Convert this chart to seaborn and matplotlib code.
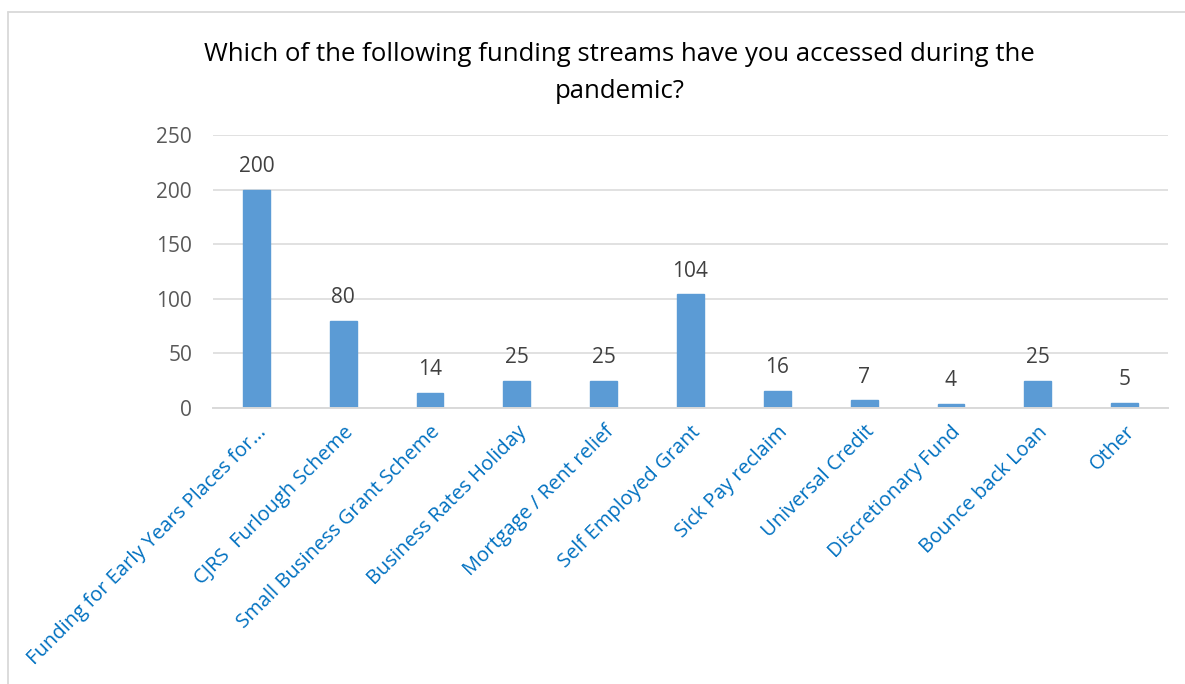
import matplotlib
matplotlib.use("Agg")
import matplotlib.pyplot as plt
import seaborn as sns
import pandas as pd
from matplotlib.lines import Line2D

categories = [
    "Funding for Early Years Places for...",
    "CJRS  Furlough Scheme",
    "Small Business Grant Scheme",
    "Business Rates Holiday",
    "Mortgage / Rent relief",
    "Self Employed Grant",
    "Sick Pay reclaim",
    "Universal Credit",
    "Discretionary Fund",
    "Bounce back Loan",
    "Other",
]
counts = [200, 80, 14, 25, 25, 104, 16, 7, 4, 25, 5]
y_ticks = [0, 50, 100, 150, 200, 250]

title = "Which of the following funding streams have you accessed during the\npandemic?"

sns.set_theme(style="white")
plt.rcParams["font.family"] = ["Open Sans", "DejaVu Sans"]

df = pd.DataFrame({"category": categories, "count": counts})

fig = plt.figure(figsize=(11.85, 6.84), dpi=100)
ax = fig.add_axes([0.1797, 0.4035, 0.806, 0.3991])

sns.barplot(data=df, x="category", y="count", color="#5B9BD5", width=0.31,
            saturation=1, ax=ax, edgecolor="#5B9BD5")

ax.set_ylim(0, 250)
ax.set_yticks(y_ticks)
ax.set_xlim(-0.5, len(categories) - 0.5)
ax.yaxis.grid(True, color="#D9D9D9", linewidth=1.1)
ax.set_axisbelow(True)
for s in ["top", "right", "left"]:
    ax.spines[s].set_visible(False)
ax.spines["bottom"].set_color("#D9D9D9")
ax.spines["bottom"].set_linewidth(1.4)
ax.set_xlabel("")
ax.set_ylabel("")
ax.tick_params(axis="y", length=0, pad=15, labelsize=15, labelcolor="#595959")
ax.tick_params(axis="x", length=0, pad=10)
ax.set_xticks(range(len(categories)))
ax.set_xticklabels(categories, rotation=45, ha="right", rotation_mode="anchor",
                   fontsize=14.5, color="#0070C0")

for i, v in enumerate(counts):
    ax.annotate(str(v), (i, v), xytext=(0, 9), textcoords="offset points",
                ha="center", va="bottom", fontsize=15, color="#404040")

fig.text(0.523, 0.938, title, ha="center", va="top", fontsize=18.5,
         color="#000000", linespacing=1.6)

# chart frame
fig.add_artist(Line2D([7.5 / 1185, 7.5 / 1185], [0, 1 - 11.5 / 684],
                      transform=fig.transFigure, color="#D9D9D9", linewidth=1.3))
fig.add_artist(Line2D([7.5 / 1185, 1], [1 - 11.5 / 684, 1 - 11.5 / 684],
                      transform=fig.transFigure, color="#D9D9D9", linewidth=1.3))

fig.savefig("out.png", dpi=100, facecolor="white")
